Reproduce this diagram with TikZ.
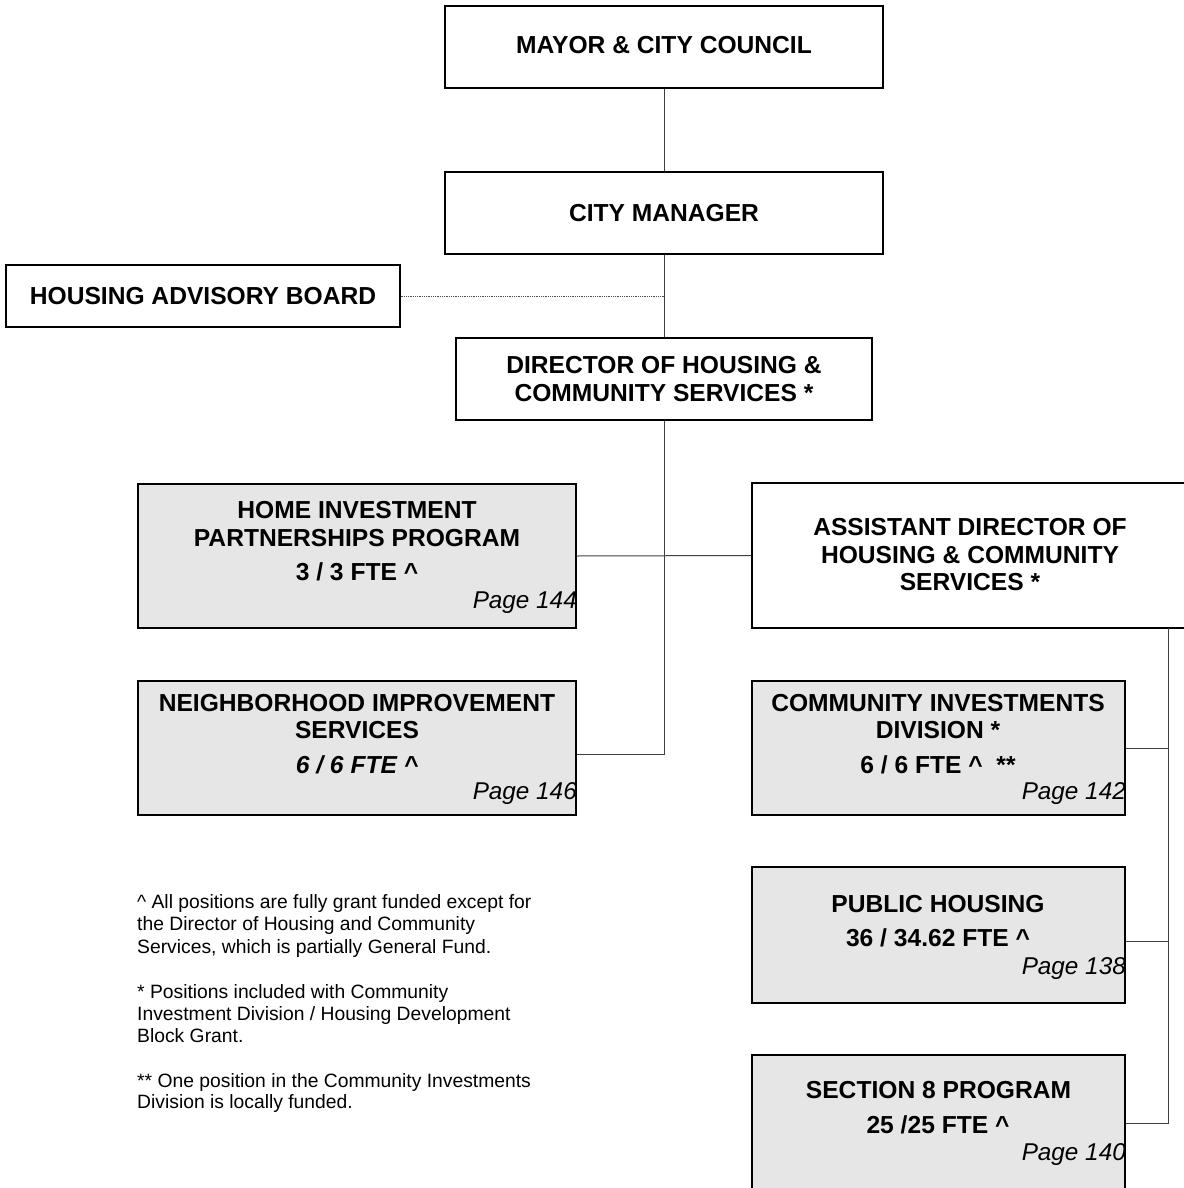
\documentclass[tikz,border=0pt]{standalone}
\usepackage{fontspec}
\setmainfont{Liberation Sans}
\definecolor{boxgray}{HTML}{E6E6E6}
\begin{document}
\begin{tikzpicture}[x=1pt,y=-1pt,
 box/.style={draw=black, line width=1.3pt, inner sep=0pt},
 gbox/.style={box, fill=boxgray},
 ttl/.style={font=\fontsize{24.6}{27}\selectfont\bfseries, anchor=base, inner sep=0pt},
 ttli/.style={font=\fontsize{24.6}{27}\selectfont\bfseries\itshape, anchor=base, inner sep=0pt},
 pg/.style={font=\fontsize{24.3}{27}\selectfont\itshape, anchor=base east, inner sep=0pt},
 note/.style={font=\fontsize{19.3}{22}\selectfont, anchor=base west, inner sep=0pt},
 conn/.style={draw=black!75, line width=1pt},
 dotconn/.style={draw=black!70, line width=0.8pt, densely dotted}]
\useasboundingbox (0,0) rectangle (1183,1188);

% boxes
\node[box, minimum width=438, minimum height=82] (mayor) at (664,47) {};
\node[box, minimum width=438, minimum height=82] (cm) at (664,213) {};
\node[box, minimum width=394, minimum height=62] (hab) at (203,296) {};
\node[box, minimum width=416, minimum height=82] (dir) at (664,379) {};
\node[gbox, minimum width=438, minimum height=144] (home) at (357,556) {};
\node[box, minimum width=438, minimum height=145] (asst) at (971,555.5) {};
\node[gbox, minimum width=438, minimum height=134] (nis) at (357,748) {};
\node[gbox, minimum width=373, minimum height=134] (cid) at (938.5,748) {};
\node[gbox, minimum width=373, minimum height=136] (ph) at (938.5,935) {};
\node[gbox, minimum width=373, minimum height=136] (s8) at (938.5,1123) {};
\coordinate (bus) at (1168,628);

% connectors
\draw[conn] (mayor.south) -- (cm.north);
\draw[conn] (cm.south) -- (dir.north);
\draw[dotconn] (hab.east) -- (hab.east -| cm.south);
\draw[conn] (dir.south) |- ([yshift=-6pt]nis.east);
\draw[conn] (home.east) -- (asst.west);
\draw[conn] (bus) |- (s8.east);
\draw[conn] (cid.east) -- (cid.east -| bus);
\draw[conn] ([yshift=-6pt]ph.east) -- ([yshift=-6pt]ph.east -| bus);

% texts
\node[ttl] (t1) at (664,54) {MAYOR \& CITY COUNCIL};
\node[ttl] (t2) at (664,221) {CITY MANAGER};
\node[ttl] (t3) at (203,304) {HOUSING ADVISORY BOARD};
\node[ttl] (t4) at (664,373) {DIRECTOR OF HOUSING \&};
\node[ttl] (t5) at (664,401) {COMMUNITY SERVICES *};

\node[ttl] (h1) at (357,518) {HOME INVESTMENT};
\node[ttl] (h2) at (357,546) {PARTNERSHIPS PROGRAM};
\node[ttl] (h3) at (357,580) {3 / 3 FTE \textasciicircum};
\node[pg] (h4) at (577,608) {Page 144};

\node[ttl] (n1) at (357,711) {NEIGHBORHOOD IMPROVEMENT};
\node[ttl] (n2) at (357,738) {SERVICES};
\node[ttli] (n3) at (357,773) {6 / 6 FTE \textasciicircum};
\node[pg] (n4) at (577,799) {Page 146};

\node[ttl] (a1) at (970,535) {ASSISTANT DIRECTOR OF};
\node[ttl] (a2) at (970,563) {HOUSING \& COMMUNITY};
\node[ttl] (a3) at (970,590) {SERVICES *};

\node[ttl] (c1) at (938,711) {COMMUNITY INVESTMENTS};
\node[ttl] (c2) at (938,738) {DIVISION *};
\node[ttl] (c3) at (938,773) {6 / 6 FTE \textasciicircum\ \ **};
\node[pg] (c4) at (1126,799) {Page 142};

\node[ttl] (p1) at (938,912) {PUBLIC HOUSING};
\node[ttl] (p2) at (938,946) {36 / 34.62 FTE \textasciicircum};
\node[pg] (p3) at (1126,974) {Page 138};

\node[ttl] (s1) at (938.5,1098) {SECTION 8 PROGRAM};
\node[ttl] (s2) at (938,1133) {25 /25 FTE \textasciicircum};
\node[pg] (s3) at (1126,1160) {Page 140};

% notes
\node[note] (f1) at (137,908) {\textasciicircum\ All positions are fully grant funded except for};
\node[note] (f2) at (137,930) {the Director of Housing and Community};
\node[note] (f3) at (137,953) {Services, which is partially General Fund.};
\node[note] (f4) at (137,998) {* Positions included with Community};
\node[note] (f5) at (137,1020) {Investment Division / Housing Development};
\node[note] (f6) at (137,1042) {Block Grant.};
\node[note] (f7) at (137,1087) {** One position in the Community Investments};
\node[note] (f8) at (137,1108) {Division is locally funded.};
\end{tikzpicture}
\end{document}
